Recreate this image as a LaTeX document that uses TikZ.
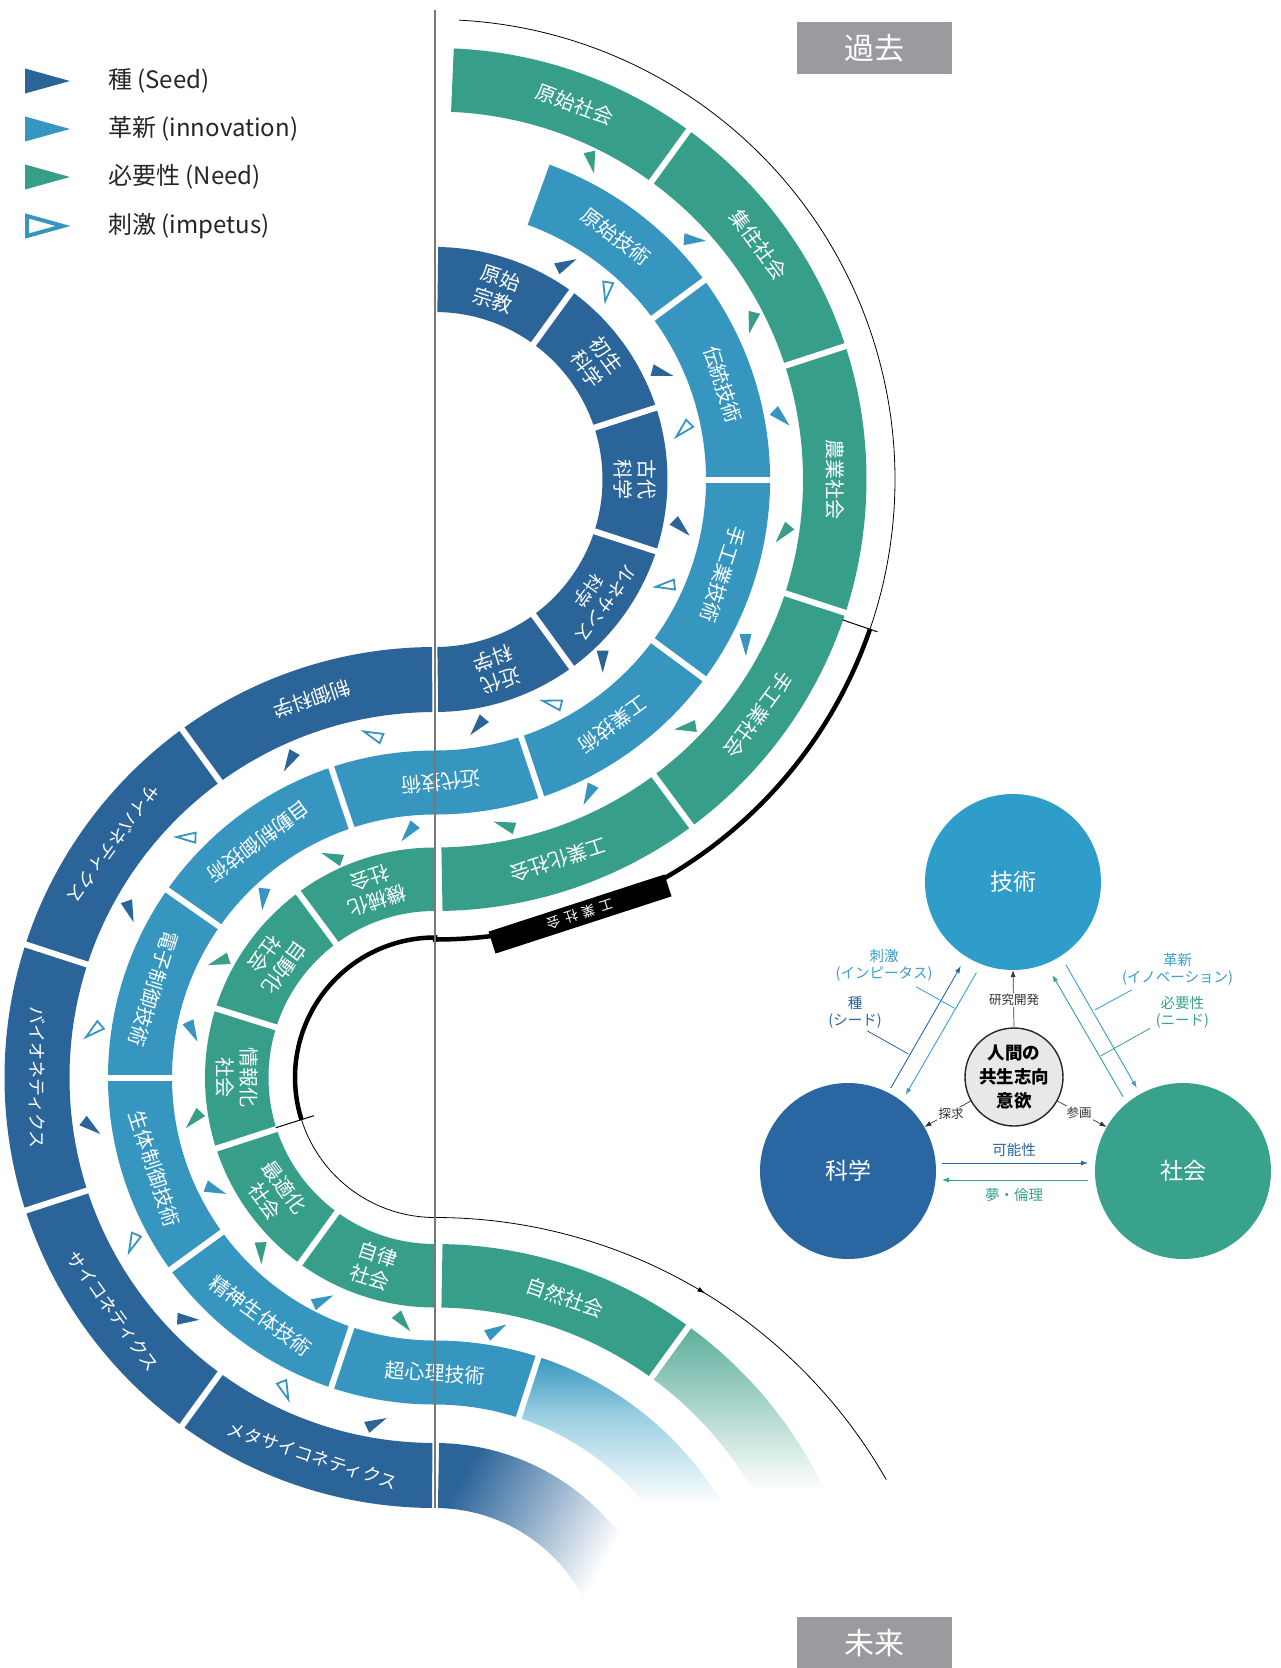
\documentclass[tikz,border=0pt]{standalone}
\usepackage{fontspec}
\setmainfont{Noto Sans CJK JP}
\usetikzlibrary{calc,arrows.meta,decorations.markings}
\definecolor{sciC}{HTML}{2B6499}
\definecolor{techC}{HTML}{3696C0}
\definecolor{socC}{HTML}{379E8A}
\definecolor{gizC}{HTML}{2E9DCA}
\definecolor{kagC}{HTML}{2A66A2}
\definecolor{shaC}{HTML}{38A28D}
\definecolor{impC}{HTML}{3A9ECE}
\definecolor{boxG}{HTML}{9B9A9F}
\definecolor{lineG}{HTML}{777777}
\definecolor{socL}{HTML}{5DAE9B}
\definecolor{techM}{HTML}{9CCFE3}
\definecolor{sciM}{HTML}{8FADC9}
\pgfdeclareverticalshading{socfade}{100bp}{color(0bp)=(white); color(40bp)=(white); color(75bp)=(socL); color(100bp)=(socL)}
\pgfdeclareverticalshading{techfade}{100bp}{color(0bp)=(white); color(42bp)=(white); color(62bp)=(techM); color(75bp)=(techC); color(100bp)=(techC)}
\pgfdeclarehorizontalshading{scifade}{100bp}{color(0bp)=(sciC); color(25bp)=(sciC); color(45bp)=(sciM); color(66bp)=(white); color(100bp)=(white)}
\newcommand\bandsec[6]{\fill[#6,shift={(#1)}] (#4:#3) arc[start angle=#4,end angle=#5,radius=#3] -- (#5:#2) arc[start angle=#5,end angle=#4,radius=#2] -- cycle;}
\newcommand\sepline[4]{\draw[white,line width=6pt,shift={(#1)}] (#2:#3) -- (#2:#4);}
\newcommand\tri[4]{\fill[#4,shift={(#1,-#2)},rotate=#3] (11,0) -- (-11,6) -- (-11,-6) -- cycle;}
\newcommand\trio[3]{\draw[techC,fill=white,line width=1.8pt,shift={(#1,-#2)},rotate=#3] (9.5,0) -- (-9.5,5) -- (-9.5,-5) -- cycle;}
\begin{document}
\begin{tikzpicture}[x=1pt,y=1pt,
  lbl/.style={text=white,align=center,inner sep=0pt,font=\fontsize{20}{24}\selectfont},
  lbls/.style={text=white,align=center,inner sep=0pt,font=\fontsize{18}{22}\selectfont},
  leg/.style={anchor=west,inner sep=0pt,text=black!85,font=\fontsize{24}{27}\selectfont},
  tlab/.style={align=center,inner sep=0pt,font=\fontsize{14.5}{17}\selectfont},
  small/.style={fill=white,inner sep=1.5pt,text=black!80,font=\fontsize{12.5}{14}\selectfont},
  arr/.style={line width=0.9pt,-{Latex[length=7pt,width=5pt]}},
  bigc/.style={circle,minimum size=176pt,inner sep=0pt,text=white,font=\fontsize{23}{26}\selectfont},
  gbox/.style={fill=boxG,minimum width=155pt,minimum height=52pt,inner sep=0pt,text=white,font=\fontsize{30}{30}\selectfont}]
\useasboundingbox (0,0) rectangle (1281,-1668);
\fill[white] (0,0) rectangle (1281,-1668);
\coordinate (C1) at (435,-479.5);
\coordinate (C2) at (435,-1077.5);
\coordinate (C3) at (435,-1675.5);
\coordinate (C4) at (435,-1737);
% ---------- bands ----------
\bandsec{C1}{167.5}{232.5}{89.2}{-89.2}{sciC}
\bandsec{C1}{271}{335}{70}{-90}{techC}
\bandsec{C1}{368}{431.5}{87.5}{-89}{socC}
\bandsec{C2}{365.5}{430.5}{90.4}{269.6}{sciC}
\bandsec{C2}{263}{327}{90}{270}{techC}
\bandsec{C2}{166.5}{230}{90}{270}{socC}
\bandsec{C3}{271}{335}{90}{72}{techC}
\bandsec{C3}{368}{431.5}{89}{54}{socC}
% ---------- fades ----------
\shade[shading=socfade,shift={(C3)}] (54:431.5) arc[start angle=54,end angle=18,radius=431.5] -- (18:368) arc[start angle=18,end angle=54,radius=368] -- cycle;
\shade[shading=techfade,shift={(C3)}] (72:335) arc[start angle=72,end angle=20,radius=335] -- (20:271) arc[start angle=20,end angle=72,radius=271] -- cycle;
\shade[shading=scifade,shading angle=-30,shift={(C3)}] (89:232.5) arc[start angle=89,end angle=18,radius=232.5] -- (18:167.5) arc[start angle=18,end angle=89,radius=167.5] -- cycle;
% ---------- separators ----------
\foreach \a in {54,18,-18,-54} {\sepline{C1}{\a}{165}{235}}
\foreach \a in {36.5,0,-36.5,-71.5} {\sepline{C1}{\a}{268}{338}}
\foreach \a in {54,18,-18,-53.5} {\sepline{C1}{\a}{365}{434}}
\foreach \a in {126.5,162.5,198,234} {\sepline{C2}{\a}{164}{233}}
\foreach \a in {108.5,145,180,216,251.5} {\sepline{C2}{\a}{260}{330}}
\foreach \a in {126,162,198,234} {\sepline{C2}{\a}{363}{433}}
\sepline{C3}{72}{268}{338}
\sepline{C3}{54}{365}{434}
% ---------- triangles ----------
\tri{591.7}{162.7}{-78}{socC}
\tri{695}{240}{-4}{techC}
\tri{566.7}{264}{26}{sciC}
\trio{606.7}{291.7}{-99}
\tri{751.7}{323}{-104}{socC}
\tri{662.7}{373}{-15}{sciC}
\trio{683}{430}{-135}
\tri{781.7}{418}{-44}{techC}
\tri{681.7}{528}{-44}{sciC}
\tri{782.7}{534}{-130}{socC}
\trio{665}{585.7}{187}
\tri{745.7}{645}{-89}{techC}
\tri{602.7}{661.7}{-90}{sciC}
\trio{551.7}{703}{166}
\tri{685}{727.7}{189}{socC}
\tri{477.3}{726.7}{-130}{sciC}
\tri{588.3}{795}{-116}{techC}
\tri{504}{825}{162}{socC}
\trio{372.7}{735}{158}
\tri{289.3}{761.7}{-119}{sciC}
\tri{408.3}{832.7}{-129}{techC}
\tri{331.7}{856.7}{160}{socC}
\trio{186}{837.3}{178}
\tri{263.3}{899.3}{-96}{techC}
\tri{130}{911.7}{-71}{sciC}
\tri{218.3}{961.7}{198}{socC}
\trio{93.3}{1031}{-140}
\tri{192.7}{1031.7}{-64.5}{techC}
\tri{91.7}{1127.3}{-38}{sciC}
\tri{193.3}{1120}{-133}{socC}
\tri{216}{1190}{-21}{techC}
\trio{132.7}{1243.3}{-113}
\tri{261}{1253.3}{-88}{socC}
\tri{323.3}{1300}{25}{techC}
\tri{188.3}{1319.3}{-3}{sciC}
\tri{403.3}{1322.7}{-51}{socC}
\tri{496.7}{1330}{30}{techC}
\trio{285}{1390.7}{-69}
\tri{376.7}{1422.7}{25}{sciC}
% ---------- black time line ----------
\draw[black,line width=0.8pt,shift={(C1)}] (87:460) arc[start angle=87,end angle=-19,radius=460];
\draw[black,line width=4.5pt] ([shift={(C1)}]-19:460) arc[start angle=-19,end angle=-90,radius=460] -- ([shift={(C2)}]90:140) arc[start angle=90,end angle=197.5,radius=140];
\draw[black,line width=0.8pt,shift={(C2)}] (197.5:140) arc[start angle=197.5,end angle=270,radius=140];
\draw[black,line width=0.8pt,shift={(C4)},decoration={markings,mark=at position 0.52 with {\arrow{Latex[length=8pt,width=5pt]}}},postaction={decorate}] (90:519.5) arc[start angle=90,end angle=29.7,radius=519.5];
\draw[black,line width=1pt,shift={(C1)}] (-19:431) -- (-19:468);
\draw[black,line width=1pt,shift={(C2)}] (197.5:127) -- (197.5:167);
\node[fill=black,rotate=198,minimum width=185pt,minimum height=23pt,inner sep=0pt,text=white,font=\fontsize{13.5}{14}\selectfont] (kbox) at (580,-914) {工\hspace{5pt}業\hspace{5pt}社\hspace{5pt}会};
% ---------- band labels ----------
\node[lbl,rotate=-18] (s1) at ($(C1)+(72:200)$) {原始\\宗教};
\node[lbl,rotate=-54] (s2) at ($(C1)+(36:200)$) {初生\\科学};
\node[lbl,rotate=-90] (s3) at ($(C1)+(0:200)$) {古代\\科学};
\node[lbls,rotate=-126] (s4) at ($(C1)+(-36:200)$) {ルネサンス\\科学};
\node[lbl,rotate=-162] (s5) at ($(C1)+(-72:200)$) {近代\\科学};
\node[lbl,rotate=-36.75] (t1) at ($(C1)+(53.25:303)$) {原始技術};
\node[lbl,rotate=-71.75] (t2) at ($(C1)+(18.25:303)$) {伝統技術};
\node[lbl,rotate=-108.25] (t3) at ($(C1)+(-18.25:303)$) {手工業技術};
\node[lbl,rotate=-144] (t4) at ($(C1)+(-54:303)$) {工業技術};
\node[lbl,rotate=186] (t5) at (441,-782) {近代技術};
\node[lbl,rotate=-20.5] (o1) at ($(C1)+(69.5:400)$) {原始社会};
\node[lbl,rotate=-54] (o2) at ($(C1)+(36:400)$) {集住社会};
\node[lbl,rotate=-90] (o3) at ($(C1)+(0:400)$) {農業社会};
\node[lbl,rotate=-126] (o4) at ($(C1)+(-36:400)$) {手工業社会};
\node[lbl,rotate=-162] (o5) at ($(C1)+(-72:400)$) {工業化社会};
\node[lbl,rotate=198] (s6) at ($(C2)+(108:398)$) {制御科学};
\node[lbls,rotate=234] (s7) at ($(C2)+(144:398)$) {サイバネティクス};
\node[lbls,rotate=270] (s8) at ($(C2)+(180:398)$) {バイオネティクス};
\node[lbls,rotate=306] (s9) at ($(C2)+(216:398)$) {サイコネティクス};
\node[lbls,rotate=342] (s10) at ($(C2)+(252:398)$) {メタサイコネティクス};
\node[lbl,rotate=216.75] (t6) at ($(C2)+(126.75:295)$) {自動制御技術};
\node[lbl,rotate=252.5] (t7) at ($(C2)+(162.5:295)$) {電子制御技術};
\node[lbl,rotate=288] (t8) at ($(C2)+(198:295)$) {生体制御技術};
\node[lbl,rotate=323.75] (t9) at ($(C2)+(233.75:295)$) {精神生体技術};
\node[lbl,rotate=-4] (t10) at (435,-1373) {超心理技術};
\node[lbl,rotate=198] (o6) at ($(C2)+(108:198)$) {機械化\\社会};
\node[lbl,rotate=234] (o7) at ($(C2)+(144:198)$) {自動化\\社会};
\node[lbl,rotate=270] (o8) at ($(C2)+(180:198)$) {情報化\\社会};
\node[lbl,rotate=306] (o9) at ($(C2)+(216:198)$) {最適化\\社会};
\node[lbl,rotate=342] (o10) at ($(C2)+(252:198)$) {自律\\社会};
\node[lbl,rotate=-19] (o11) at ($(C3)+(71:400)$) {自然社会};
% ---------- vertical line ----------
\coordinate (vt) at (435,-10);
\coordinate (vb) at (435,-1508);
\draw[lineG,line width=1.3pt] (vt) -- (vb);
% ---------- legend ----------
\fill[sciC] (25,-68.5) -- (70,-81) -- (25,-93.5) -- cycle;
\fill[techC] (25,-116.5) -- (70,-129) -- (25,-141.5) -- cycle;
\fill[socC] (25,-164.5) -- (70,-177) -- (25,-189.5) -- cycle;
\draw[techC,line width=4pt,fill=white] (27,-216) -- (63,-226) -- (27,-236) -- cycle;
\node[leg] (l1) at (108,-81) {種 (Seed)};
\node[leg] (l2) at (108,-129) {革新 (innovation)};
\node[leg] (l3) at (108,-177) {必要性 (Need)};
\node[leg] (l4) at (108,-226) {刺激 (impetus)};
% ---------- past / future ----------
\node[gbox] (past) at (874.5,-48) {過去};
\node[gbox] (future) at (874.5,-1643) {未来};
% ---------- triad ----------
\node[bigc,fill=gizC] (giz) at (1013,-882) {技術};
\node[bigc,fill=kagC] (kag) at (848,-1171) {科学};
\node[bigc,fill=shaC] (sha) at (1183,-1171) {社会};
\node[circle,draw=black!85,line width=1.4pt,fill=black!9,minimum size=98pt,inner sep=0pt,align=center,font=\bfseries\fontsize{17.5}{24}\selectfont] (hum) at (1014,-1077) {人間の\\共生志向\\意欲};
\coordinate (a1) at (890.8,-1088); \coordinate (a2) at (960.8,-966);
\coordinate (b1) at (976.4,-972.7); \coordinate (b2) at (905.6,-1095);
\coordinate (c1) at (1066,-965); \coordinate (c2) at (1136.8,-1088);
\coordinate (d1) at (1123,-1096.7); \coordinate (d2) at (1052.3,-975);
\draw[arr,kagC] (a1) -- (a2);
\draw[arr,impC] (b1) -- (b2);
\draw[arr,impC] (c1) -- (c2);
\draw[arr,shaC] (d1) -- (d2);
\draw[arr,black!80,line width=0.7pt] (hum.north) -- (giz.south);
\node[small] (rd) at (1014,-1000) {研究開発};
\draw[arr,black!80,line width=0.7pt] (hum.209) -- (kag.30);
\node[small] (tq) at (951,-1114) {探求};
\draw[arr,black!80,line width=0.7pt] (hum.-29) -- (sha.150);
\node[small] (sk) at (1079,-1113) {参画};
\coordinate (p1) at (942,-1163); \coordinate (p2) at (1088,-1163);
\coordinate (q1) at (1088,-1180); \coordinate (q2) at (942,-1180);
\draw[arr,kagC] (p1) -- (p2);
\draw[arr,shaC] (q1) -- (q2);
\node[tlab,text=kagC] (kn) at (1014,-1150) {可能性};
\node[tlab,text=shaC] (yr) at (1014,-1195) {夢・倫理};
\node[tlab,text=impC] (lb1) at (884,-965.5) {刺激\\(インピータス)};
\node[tlab,text=kagC] (lb2) at (855,-1012) {種\\(シード)};
\node[tlab,text=impC] (lb3) at (1177.5,-969.5) {革新\\(イノベーション)};
\node[tlab,text=shaC] (lb4) at (1182.4,-1012) {必要性\\(ニード)};
\coordinate (e1) at (916,-986.7); \coordinate (e2) at (954.6,-1008.3);
\coordinate (f1) at (867,-1030.7); \coordinate (f2) at (908.4,-1054);
\coordinate (g1) at (1131.7,-990); \coordinate (g2) at (1094.7,-1010);
\coordinate (h1) at (1150,-1028.3); \coordinate (h2) at (1100.6,-1056);
\draw[impC,line width=0.8pt] (e1) -- (e2);
\draw[kagC,line width=0.8pt] (f1) -- (f2);
\draw[impC,line width=0.8pt] (g1) -- (g2);
\draw[shaC,line width=0.8pt] (h1) -- (h2);
\end{tikzpicture}
\end{document}
